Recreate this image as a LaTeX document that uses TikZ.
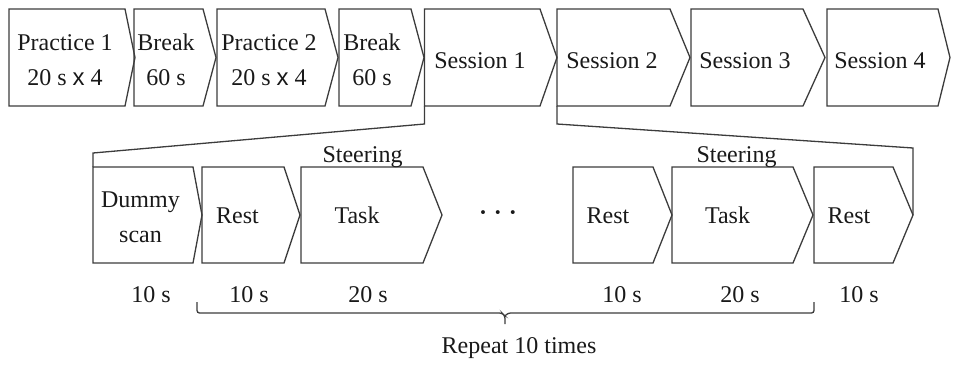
\documentclass[tikz,border=0pt]{standalone}
\usepackage{fontspec}
\setmainfont{Liberation Serif}
\newfontfamily\xsans{Liberation Sans}
\definecolor{lineG}{RGB}{60,60,60}
\definecolor{txtK}{RGB}{25,25,25}

\begin{document}
\begin{tikzpicture}[x=1pt,y=-1pt,font=\fontsize{24}{35}\selectfont]
  \tikzset{stage/.style={draw=lineG,line width=1.3pt,line join=miter},
    lbl/.style={anchor=base,align=center,inner sep=0pt,text=txtK}}
  \useasboundingbox (0,0) rectangle (953,367);
  % top row: practice, breaks and sessions
  \foreach \nm/\xl/\xr/\xt/\xc/\yb/\txt in {p1/9/125/135/65/85/{Practice 1\\20 s {\xsans x} 4},
      b1/134/203/216/166/85/{Break\\60 s},
      p2/217/325/338/269/85/{Practice 2\\20 s {\xsans x} 4},
      b2/339/411/424/372/85/{Break\\60 s},
      s1/424.5/540/557/480/68/{Session 1},
      s2/557/670/690/612/68/{Session 2},
      s3/691/803/825/745/68/{Session 3},
      s4/827/938/950/880/68/{Session 4}} {
    \draw[stage] (\xl,9) -- (\xr,9) -- (\xt,57.5) -- (\xr,106) -- (\xl,106) -- cycle;
    \coordinate (\nm-sw) at (\xl,106);
    \node[lbl] (\nm) at (\xc,\yb) {\txt};
  }
  % bottom row: one session
  \foreach \nm/\xl/\xr/\xt/\xc/\yb/\txt in {ds/93/193/202/140.5/242/{Dummy\\scan},
      r1/202/284/300/237.5/223/{Rest},
      t1/301/423/442/357/223/{Task},
      r2/573/653/672/608/223/{Rest},
      t2/672/793/813/727.5/223/{Task},
      r3/814/893/913/849/223/{Rest}} {
    \draw[stage] (\xl,167) -- (\xr,167) -- (\xt,215) -- (\xr,263) -- (\xl,263) -- cycle;
    \coordinate (\nm-nw) at (\xl,167);
    \coordinate (\nm-tip) at (\xt,215);
    \node[lbl] (\nm) at (\xc,\yb) {\txt};
  }
  \node[lbl] (dots) at (498,220) {\bfseries ·\hspace{7pt}·\hspace{7pt}·};
  \node[lbl] (st1) at (362.5,162) {Steering};
  \node[lbl] (st2) at (736.5,162) {Steering};
  % zoom lines from session 1
  \coordinate (zl1) at (424.5,124);
  \coordinate (zl2) at (93,153);
  \coordinate (zr1) at (557,124);
  \coordinate (zr2) at (913,148);
  \draw[stage] (s1-sw) -- (zl1) -- (zl2) -- (ds-nw);
  \draw[stage] (s2-sw) -- (zr1) -- (zr2) -- (r3-tip);
  % durations
  \foreach \nm/\xc/\txt in {d0/151/10 s,d1/249/10 s,d2/368/20 s,d3/622/10 s,d4/740/20 s,d5/859/10 s}
    \node[lbl] (\nm) at (\xc,302) {\txt};
  % brace over the repeated block
  \coordinate (bl) at (197,302);
  \coordinate (br) at (814,302);
  \coordinate (bt) at (505,324);
  \draw[stage,rounded corners=2.5pt] (bl) -- (197,313) -- (502,313) -- (505,316) -- (bt);
  \draw[stage,rounded corners=2.5pt] (br) -- (814,313) -- (508,313) -- (505,316);
  \node[lbl] (rep) at (519,353) {Repeat 10 times};
\end{tikzpicture}
\end{document}
